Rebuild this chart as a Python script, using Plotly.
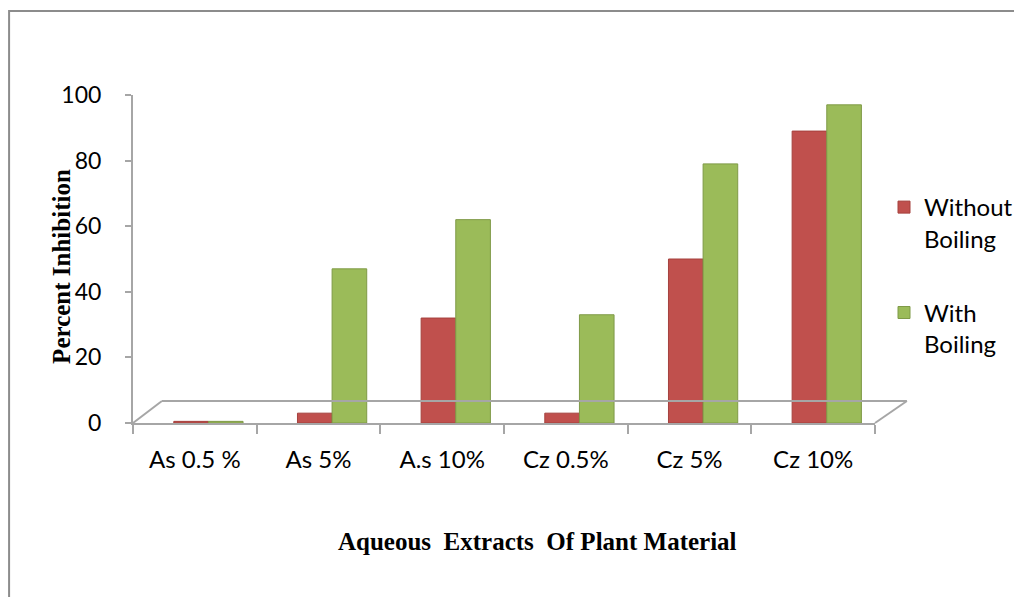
import plotly.graph_objects as go

categories = ["As 0.5 %", "As 5%", "A.s 10%", "Cz 0.5%", "Cz 5%", "Cz 10%"]
without_boiling = [0.5, 3, 32, 3, 50, 89]
with_boiling = [0.5, 47, 62, 33, 79, 97]
y_ticks = [0, 20, 40, 60, 80, 100]

RED = "#C0504D"
GREEN = "#9BBB59"
GRAY = "#A6A6A6"
TICKFONT = dict(family="Lato, Open Sans, sans-serif", size=24, color="#000000")
TITLEFONT = dict(family="Liberation Serif, Times New Roman, serif", size=25, color="#000000")

fig = go.Figure()
fig.add_trace(go.Bar(
    x=categories, y=without_boiling, name="Without<br>Boiling",
    marker=dict(color=RED, line=dict(color="#A5403D", width=1)),
    width=0.28, offset=-0.17, legendgroup="a",
))
fig.add_trace(go.Bar(
    x=categories, y=with_boiling, name="With<br>Boiling",
    marker=dict(color=GREEN, line=dict(color="#7F9A47", width=1)),
    width=0.28, offset=0.11, legendgroup="b",
))

# 3D-like floor outline
floor = [
    (0, 0, 0.039, 0.067),
    (0.039, 0.067, 1.043, 0.067),
    (1.0, 0, 1.043, 0.067),
]
shapes = [dict(type="line", xref="x domain", yref="y domain", x0=a, y0=b, x1=c, y1=d,
               line=dict(color=GRAY, width=2)) for a, b, c, d in floor]
# outer chart border (cropped on right and bottom)
shapes.append(dict(type="rect", xref="paper", yref="paper", x0=-0.167, y0=-0.6, x1=1.25, y1=1.256,
                   line=dict(color="#8C8C8C", width=2), fillcolor="rgba(0,0,0,0)", layer="below"))

fig.update_layout(
    width=1014, height=589,
    margin=dict(l=125, r=147, t=87, b=174, pad=0, autoexpand=False),
    paper_bgcolor="white", plot_bgcolor="white",
    barmode="group",
    showlegend=True,
    legend=dict(xref="container", yref="container", x=876 / 1014, y=1 - 177 / 589,
                xanchor="left", yanchor="top", valign="top",
                font=dict(family="Lato, Open Sans, sans-serif", size=24, color="#000000"),
                tracegroupgap=40, itemwidth=30, bgcolor="rgba(0,0,0,0)"),
    shapes=shapes,
    xaxis=dict(showline=True, linecolor=GRAY, linewidth=2, ticks="outside", ticklen=9,
               tickcolor=GRAY, tickwidth=2, tickson="boundaries", tickfont=TICKFONT,
               ticklabelstandoff=14, showgrid=False, zeroline=False),
    yaxis=dict(range=[0, 100], tickvals=y_ticks, showline=True, linecolor=GRAY, linewidth=2,
               ticks="outside", ticklen=6, tickcolor=GRAY, tickwidth=2,
               tickfont=dict(family="Lato, Open Sans, sans-serif", size=23, color="#000000"),
               ticklabelstandoff=19, showgrid=False, zeroline=False),
    annotations=[
        dict(text="<b>Percent Inhibition</b>", xref="paper", yref="paper",
             x=-0.0957, y=0.479, xanchor="center", yanchor="middle",
             textangle=-90, showarrow=False, font=TITLEFONT),
        dict(text="<b>Aqueous  Extracts  Of Plant Material</b>", xref="paper", yref="paper",
             x=0.545, y=-0.36, xanchor="center", yanchor="middle",
             showarrow=False, font=TITLEFONT),
    ],
)

fig.write_html("out.html")
